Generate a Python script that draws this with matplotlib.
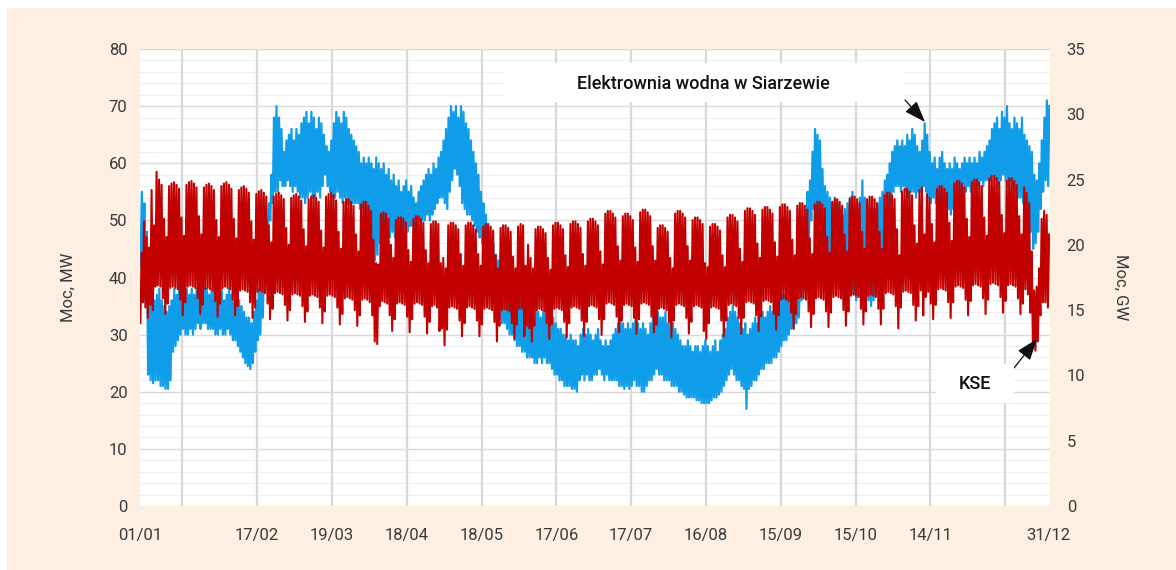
import numpy as np
import matplotlib.pyplot as plt
from matplotlib.patches import Rectangle

# ====== DANE (2015, wartości dobowe) ======
tick_days = [0, 47, 77, 107, 137, 167, 197, 227, 257, 287, 317, 364.5]
tick_labels = ["01/01", "17/02", "19/03", "18/04", "18/05", "17/06",
               "17/07", "16/08", "15/09", "15/10", "14/11", "31/12"]
grid_days = [17, 47, 77, 107, 137, 167, 197, 227, 257, 287, 317, 347]

# Elektrownia wodna w Siarzewie - dobowe maksimum / minimum [MW]
hydro_max_mw = [
    55, 53, 48, 40,
    38, 36, 37, 38, 36, 35, 34,
    35, 36, 38, 37, 39, 38, 40,
    38, 37, 38, 37, 38, 39, 37,
    38, 38, 37, 38, 39, 38, 37,
    38, 36, 37, 38, 37, 36, 37,
    36, 35, 34, 33, 33, 32, 34,
    36, 38, 40, 42, 50, 53, 58,
    68, 70, 68, 66, 62, 64, 65,
    66, 64, 66, 65, 67, 68, 69,
    67, 69, 68, 66, 68, 67, 65,
    63, 62, 64, 67, 69, 68, 67,
    69, 68, 66, 65, 64, 63, 62,
    60, 61, 60, 61, 60, 59, 61,
    60, 59, 60, 58, 59, 57, 58,
    56, 57, 55, 56, 57, 55, 56,
    54, 53, 55, 56, 57, 58, 59,
    58, 60, 59, 61, 62, 64, 66,
    68, 70, 69, 70, 68, 70, 69,
    67, 66, 64, 62, 60, 58, 55,
    53, 51, 49, 47, 46, 44, 43,
    42, 41, 40, 39, 40, 38, 39,
    38, 37, 37, 36, 35, 35, 34,
    35, 34, 33, 34, 35, 34, 33,
    33, 32, 31, 31, 30, 30, 29,
    30, 29, 29, 28, 30, 31, 30,
    31, 30, 29, 30, 31, 29, 28,
    29, 28, 29, 30, 31, 32, 33,
    32, 31, 32, 31, 32, 33, 32,
    31, 32, 31, 30, 32, 33, 34,
    34, 33, 33, 34, 32, 33, 32,
    31, 30, 29, 28, 28, 29, 28,
    27, 28, 28, 27, 28, 29, 28,
    27, 28, 29, 27, 29, 30, 31,
    33, 34, 35, 34, 33, 32, 31,
    32, 30, 31, 32, 33, 32, 33,
    34, 33, 34, 35, 34, 35, 36,
    36, 37, 37, 38, 38, 39, 38,
    39, 40, 44, 50, 55, 57, 62,
    66, 65, 64, 59, 56, 55, 54,
    53, 54, 53, 52, 51, 52, 53,
    54, 55, 53, 52, 54, 57, 54,
    53, 52, 51, 52, 53, 54, 55,
    57, 58, 60, 62, 63, 64, 63,
    64, 63, 65, 64, 66, 65, 63,
    62, 64, 67, 65, 62, 60, 61,
    59, 61, 62, 60, 59, 60, 59,
    61, 60, 59, 60, 61, 60, 61,
    60, 61, 60, 62, 61, 62, 63,
    64, 66, 67, 68, 66, 69, 68,
    70, 67, 66, 68, 67, 66, 68,
    65, 64, 63, 62, 58, 57, 60,
    64, 68, 71, 70,
]
hydro_min_mw = [
    42, 40, 36, 23,
    22, 21.5, 22, 22, 21, 21, 20.5,
    20.5, 22, 27, 28, 29, 30, 31,
    30, 30, 31, 30, 31, 32, 31,
    32, 32, 31, 31, 31, 30, 30,
    31, 30, 30, 31, 30, 29, 29,
    28, 27, 26, 25, 24.5, 24, 25,
    27, 29, 30, 33, 40, 48, 50,
    53, 55, 55, 57, 56, 56, 57,
    56, 55, 56, 55, 54, 54, 53,
    54, 55, 54, 54, 55, 54, 56,
    58, 56, 55, 54, 54, 55, 54,
    53, 54, 53, 53, 53, 53, 53,
    52, 52, 51, 50, 48, 44, 43,
    44, 46, 47, 46, 47, 47, 48,
    47, 48, 47, 48, 49, 48, 49,
    49, 48, 49, 50, 50, 50, 51,
    50, 51, 52, 53, 54, 54, 53,
    52, 55, 57, 59, 58, 56, 53,
    52, 51, 51, 50, 49, 48, 47,
    46, 44, 41, 39, 37, 36, 34,
    33, 32, 32, 31, 30, 30, 29,
    28, 28, 27, 27, 26, 26, 26,
    25, 25, 26, 25, 26, 25, 25,
    24, 23, 23, 22, 22, 21, 21,
    21, 20.5, 20.5, 20, 22, 23, 22,
    23, 22, 22, 23, 23, 24, 23,
    22, 23, 22, 22, 22, 22, 21,
    21, 20.5, 21, 20.5, 21, 22, 21,
    21, 20, 20, 21, 22, 22, 23,
    24, 23, 23, 22, 22, 22, 21,
    21, 21, 20, 20, 19.5, 19, 19,
    19, 19, 18.5, 18.5, 18, 18, 18,
    18, 18.5, 19, 19, 19.5, 20, 21,
    22, 23, 24, 23, 22, 22, 21,
    20.5, 17, 20.5, 21, 22, 22, 23,
    24, 24, 25, 25, 25, 26, 26,
    27, 28, 29, 29, 30, 31, 31,
    32, 33, 36, 38, 40, 45, 50,
    52, 51, 51, 48, 45, 43, 42,
    40, 40, 39, 38, 37, 36, 37,
    37, 38, 37, 36, 37, 38, 37,
    36, 36, 35, 36, 37, 38, 40,
    43, 46, 50, 53, 55, 56, 56,
    55, 56, 55, 54, 55, 55, 54,
    55, 55, 56, 55, 54, 53, 54,
    53, 52, 53, 52, 51, 52, 51,
    52, 53, 52, 53, 54, 55, 56,
    55, 56, 55, 56, 57, 56, 57,
    57, 57, 58, 57, 56, 57, 58,
    57, 56, 57, 56, 55, 54, 54,
    53, 52, 50, 48, 45, 46, 48,
    52, 55, 57, 56,
]

# KSE - dobowe maksimum / minimum zapotrzebowania [GW]
kse_peak_gw = [
    19.4, 21.8, 20.6, 19.8,
    24.2, 21.5, 25.6, 25.0, 24.6, 22.0, 20.6,
    24.5, 24.7, 24.8, 24.6, 24.3, 22.1, 20.7,
    24.6, 24.8, 24.9, 24.7, 24.4, 22.2, 20.8,
    24.4, 24.6, 24.7, 24.5, 24.2, 21.9, 20.6,
    24.5, 24.7, 24.8, 24.6, 24.3, 22.0, 20.5,
    24.2, 24.4, 24.5, 24.3, 24.0, 21.8, 20.4,
    23.9, 24.1, 24.2, 24.0, 23.7, 21.5, 20.2,
    23.7, 23.9, 24.0, 23.8, 23.5, 21.3, 20.0,
    23.6, 23.8, 23.9, 23.7, 23.4, 21.2, 19.9,
    23.5, 23.7, 23.8, 23.6, 23.3, 21.1, 19.8,
    23.7, 23.9, 24.0, 23.8, 23.4, 21.0, 19.7,
    23.3, 23.5, 23.5, 23.3, 23.0, 20.8, 19.5,
    23.1, 23.3, 23.3, 23.0, 22.6, 20.4, 18.6,
    18.5, 22.4, 22.5, 22.4, 22.0, 20.0, 19.0,
    21.9, 22.1, 22.1, 22.0, 21.7, 19.6, 18.7,
    22.0, 22.2, 22.2, 22.0, 21.7, 19.6, 18.6,
    21.6, 21.8, 21.8, 21.6, 18.6, 19.0, 18.2,
    21.5, 21.7, 21.7, 21.5, 21.2, 19.3, 18.4,
    21.5, 21.7, 21.7, 21.5, 21.2, 19.3, 18.4,
    21.4, 21.6, 21.6, 21.4, 21.1, 19.2, 18.2,
    21.3, 21.5, 21.5, 21.3, 21.0, 19.1, 18.2,
    21.4, 21.6, 21.5, 18.4, 20.0, 19.0, 18.2,
    21.2, 21.4, 21.4, 21.2, 20.9, 19.0, 18.1,
    21.5, 21.7, 21.7, 21.5, 21.2, 19.2, 18.3,
    21.6, 21.8, 21.8, 21.6, 21.3, 19.3, 18.4,
    21.8, 22.0, 22.0, 21.8, 21.5, 19.5, 18.5,
    22.4, 22.6, 22.6, 22.4, 22.1, 19.9, 18.8,
    22.2, 22.4, 22.4, 22.2, 21.9, 19.8, 18.7,
    22.5, 22.7, 22.7, 22.5, 22.2, 19.9, 18.8,
    21.3, 21.5, 21.5, 21.3, 21.0, 19.0, 18.2,
    22.4, 22.6, 22.6, 22.4, 22.1, 19.9, 18.8,
    21.9, 22.1, 22.1, 21.9, 21.6, 18.6, 18.3,
    21.4, 21.6, 21.6, 21.4, 21.1, 19.2, 18.3,
    22.1, 22.3, 22.3, 22.1, 21.8, 19.7, 18.7,
    22.6, 22.8, 22.8, 22.6, 22.3, 20.1, 19.0,
    22.7, 22.9, 22.9, 22.7, 22.4, 20.2, 19.1,
    22.9, 23.1, 23.1, 22.9, 22.6, 20.4, 19.2,
    23.0, 23.2, 23.2, 23.0, 22.7, 20.5, 19.3,
    23.1, 23.3, 23.3, 23.1, 22.8, 20.6, 19.4,
    23.3, 23.5, 23.5, 23.3, 23.0, 20.8, 19.5,
    23.5, 23.7, 23.7, 23.5, 23.2, 21.0, 19.7,
    23.5, 23.7, 23.7, 23.5, 23.2, 21.0, 19.7,
    23.8, 24.0, 24.0, 23.8, 23.5, 21.2, 19.2,
    24.1, 24.3, 24.3, 24.1, 23.8, 21.5, 20.1,
    24.2, 24.4, 20.8, 23.9, 23.6, 21.6, 20.2,
    24.3, 24.5, 24.5, 24.3, 24.0, 21.7, 20.3,
    24.7, 24.9, 24.9, 24.7, 24.4, 22.0, 20.6,
    24.8, 25.0, 25.0, 24.8, 24.5, 22.1, 20.7,
    25.1, 25.3, 25.3, 25.1, 24.8, 22.3, 20.9,
    24.9, 25.1, 25.1, 24.9, 24.6, 22.2, 20.8,
    24.4, 24.0, 23.2, 19.5, 16.5, 16.8, 18.2,
    22.0, 22.6, 22.3, 20.8,
]
kse_low_gw = [
    14.0, 15.6, 15.2, 14.4,
    15.4, 15.0, 16.8, 16.9, 16.8, 15.9, 14.7,
    15.5, 16.7, 16.8, 16.7, 16.6, 15.8, 14.6,
    15.6, 16.8, 16.9, 16.8, 16.7, 15.9, 14.7,
    15.4, 16.6, 16.7, 16.6, 16.5, 15.7, 14.5,
    15.5, 16.7, 16.8, 16.7, 16.6, 15.8, 14.6,
    15.3, 16.5, 16.6, 16.5, 16.4, 15.6, 14.4,
    15.2, 16.4, 16.5, 16.4, 16.3, 15.5, 14.3,
    15.1, 16.3, 16.4, 16.3, 16.2, 15.4, 14.2,
    15.0, 16.2, 16.3, 16.2, 16.1, 15.3, 14.1,
    14.9, 16.1, 16.2, 16.1, 16.0, 15.2, 14.0,
    14.9, 16.1, 16.2, 16.1, 16.0, 15.2, 13.9,
    14.7, 15.9, 16.0, 15.9, 15.8, 15.0, 13.8,
    14.6, 15.8, 15.9, 15.8, 15.6, 14.6, 12.6,
    12.4, 15.3, 15.7, 15.6, 15.5, 14.6, 13.4,
    14.3, 15.5, 15.6, 15.5, 15.4, 14.5, 13.3,
    14.3, 15.5, 15.6, 15.5, 15.4, 14.5, 13.2,
    14.1, 15.3, 15.4, 15.2, 13.4, 13.6, 12.3,
    13.5, 15.2, 15.3, 15.2, 15.1, 14.2, 13.0,
    14.0, 15.2, 15.3, 15.2, 15.1, 14.2, 13.0,
    13.9, 15.1, 15.2, 15.1, 15.0, 14.1, 12.6,
    13.8, 15.0, 15.1, 15.0, 14.9, 14.0, 12.8,
    13.9, 15.1, 15.1, 13.0, 13.8, 13.6, 12.6,
    13.8, 15.0, 15.1, 15.0, 14.9, 14.0, 12.8,
    13.9, 15.1, 15.2, 15.1, 15.0, 14.1, 12.9,
    14.0, 15.2, 15.3, 15.2, 15.1, 14.2, 13.0,
    14.1, 15.3, 15.4, 15.3, 15.2, 14.3, 13.1,
    14.3, 15.5, 15.6, 15.5, 15.4, 14.5, 13.3,
    14.2, 15.4, 15.5, 15.4, 15.3, 14.4, 13.2,
    14.3, 15.5, 15.6, 15.5, 15.4, 14.5, 13.3,
    13.9, 15.1, 15.2, 15.1, 15.0, 14.1, 12.9,
    14.2, 15.4, 15.5, 15.4, 15.3, 14.4, 13.2,
    14.1, 15.3, 15.4, 15.3, 15.2, 13.4, 12.8,
    14.0, 15.2, 15.3, 15.2, 15.1, 14.2, 13.0,
    14.2, 15.4, 15.5, 15.4, 15.3, 14.4, 13.2,
    14.4, 15.6, 15.7, 15.6, 15.5, 14.6, 13.4,
    14.5, 15.7, 15.8, 15.7, 15.6, 14.7, 13.5,
    14.6, 15.8, 15.9, 15.8, 15.7, 14.8, 13.6,
    14.7, 15.9, 16.0, 15.9, 15.8, 14.9, 13.7,
    14.7, 15.9, 16.0, 15.9, 15.8, 14.9, 13.7,
    14.8, 16.0, 16.1, 16.0, 15.9, 15.0, 13.8,
    14.9, 16.1, 16.2, 16.1, 16.0, 15.1, 13.9,
    14.9, 16.1, 16.2, 16.1, 16.0, 15.1, 13.9,
    15.1, 16.3, 16.4, 16.3, 16.2, 15.3, 13.6,
    15.2, 16.4, 16.5, 16.4, 16.3, 15.4, 14.2,
    15.3, 16.5, 14.6, 16.0, 16.4, 15.5, 14.3,
    15.4, 16.6, 16.7, 16.6, 16.5, 15.6, 14.4,
    15.6, 16.8, 16.9, 16.8, 16.7, 15.8, 14.6,
    15.7, 16.9, 17.0, 16.9, 16.8, 15.9, 14.7,
    15.8, 17.0, 17.1, 17.0, 16.9, 16.0, 14.8,
    15.7, 16.9, 17.0, 16.9, 16.8, 15.9, 14.7,
    15.5, 16.6, 16.2, 14.8, 12.2, 11.9, 12.6,
    14.6, 15.6, 15.6, 15.2,
]

# ====== WYKRES ======
FONT = ['Roboto', 'DejaVu Sans']
TXT = '#3a3a3a'
W, H = 1176, 570


def fx(x):
    return x / W


def fy(y):
    return 1 - y / H


fig = plt.figure(figsize=(11.76, 5.70), dpi=100, facecolor='white')
fig.patches.append(Rectangle((fx(7), 0), 1 - fx(7), fy(8), transform=fig.transFigure,
                             facecolor='#fdf0e2', edgecolor='none', zorder=-1))

ax = fig.add_axes([fx(140), fy(506), fx(910), 457 / H])
ax.set_facecolor('white')
ax2 = ax.twinx()

days = np.arange(len(hydro_max_mw))
# dwa punkty na dobę: minimum nocne i maksimum dzienne
xb = np.column_stack([days + 0.25, days + 0.75]).ravel()
yb = np.column_stack([hydro_min_mw, hydro_max_mw]).ravel()
ax.plot(xb, yb, color='#0f9dea', lw=1.6, zorder=3)

xr = np.column_stack([days + 0.15, days + 0.65]).ravel()
yr = np.column_stack([kse_low_gw, kse_peak_gw]).ravel()
ax2.plot(xr, yr, color='#c20000', lw=1.5, zorder=3)

ax.set_xlim(0, 365)
ax.set_ylim(0, 80)
ax2.set_ylim(0, 35)

ax.set_yticks(np.arange(0, 81, 10))
ax.set_yticks(np.arange(0, 81, 2), minor=True)
ax2.set_yticks(np.arange(0, 36, 5))
ax.set_xticks(tick_days, tick_labels)

ax.grid(axis='y', which='major', color='#dadada', lw=1.0)
ax.grid(axis='y', which='minor', color='#efefef', lw=0.8)
for d in grid_days:
    ax.axvline(d, color='#d8d8d8', lw=1.6, zorder=1)
ax.set_axisbelow(True)

for a in (ax, ax2):
    for s in a.spines.values():
        s.set_visible(False)
    a.tick_params(which='both', length=0, colors=TXT, labelsize=12)
    for lab in a.get_xticklabels() + a.get_yticklabels():
        lab.set_family(FONT)

ax.tick_params(axis='y', pad=9)
ax.tick_params(axis='x', pad=16)
ax2.tick_params(axis='y', pad=12)

fig.text(fx(68), fy(287), 'Moc, MW', rotation=90, ha='center', va='center',
         fontsize=12, color=TXT, family=FONT)
fig.text(fx(1121), fy(287), 'Moc, GW', rotation=270, ha='center', va='center',
         fontsize=12, color=TXT, family=FONT)

# ====== OPISY ======
fig.patches.append(Rectangle((fx(503), fy(102)), fx(400), 39 / H, transform=fig.transFigure,
                             facecolor='white', edgecolor='none', zorder=5))
fig.text(fx(703), fy(84), 'Elektrownia wodna w Siarzewie', ha='center', va='center',
         fontsize=13, color='#111111', family=FONT, fontweight='medium', zorder=6)
fig.patches.append(Rectangle((fx(936), fy(403)), fx(78), 39 / H, transform=fig.transFigure,
                             facecolor='white', edgecolor='none', zorder=5))
fig.text(fx(975), fy(384), 'KSE', ha='center', va='center',
         fontsize=13, color='#111111', family=FONT, fontweight='medium', zorder=6)

arrow = dict(arrowstyle='-|>,head_length=1.1,head_width=0.4', color='#111111', lw=0.9,
             mutation_scale=12, shrinkA=0, shrinkB=0)
ax2.annotate('', xy=(fx(925), fy(122)), xycoords='figure fraction',
             xytext=(fx(905), fy(100)), textcoords='figure fraction', arrowprops=arrow,
             zorder=7)
ax2.annotate('', xy=(fx(1037), fy(339)), xycoords='figure fraction',
             xytext=(fx(1014), fy(368)), textcoords='figure fraction', arrowprops=arrow,
             zorder=7)

plt.savefig('out.png', dpi=100, facecolor=fig.get_facecolor())
